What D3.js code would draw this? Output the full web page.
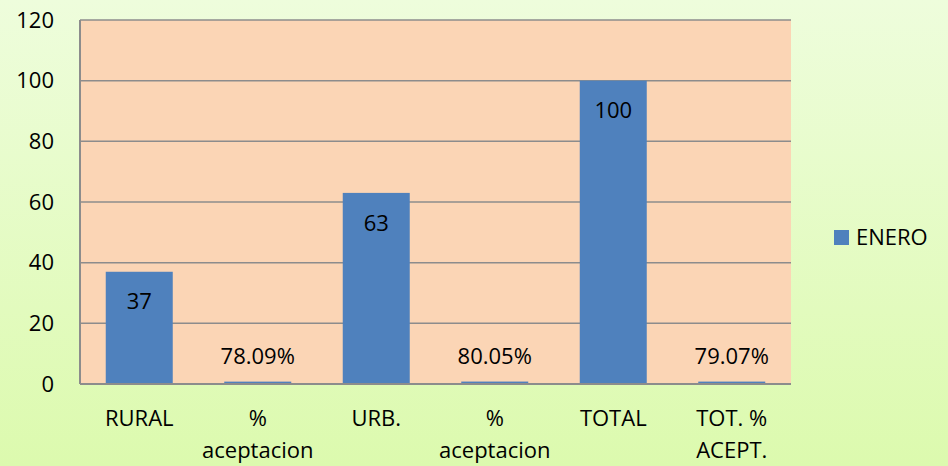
<!DOCTYPE html>
<html>
<head>
<meta charset="utf-8">
<script src="https://cdn.jsdelivr.net/npm/d3@7"></script>
<style>
  body { margin: 0; }
  svg { display: block; font-family: "Open Sans", Lato, sans-serif; }
</style>
</head>
<body>
<svg id="chart" width="948" height="466"></svg>
<script>
// data
const categories = ["RURAL", "% aceptacion", "URB.", "% aceptacion ", "TOTAL", "TOT. % ACEPT."];
const categoryLines = [["RURAL"], ["%", "aceptacion"], ["URB."], ["%", "aceptacion"], ["TOTAL"], ["TOT. %", "ACEPT."]];
const eneroValues = [37, 0.7809, 63, 0.8005, 100, 0.7907];
const valueLabels = ["37", "78.09%", "63", "80.05%", "100", "79.07%"];
const yTicks = [0, 20, 40, 60, 80, 100, 120];
const seriesName = "ENERO";

const svg = d3.select("#chart");
const W = 948, H = 466;
const margin = {top: 20, right: 157, bottom: 82, left: 80};
const width = W - margin.left - margin.right;
const height = H - margin.top - margin.bottom;
const fs = 22;

// background gradient
const defs = svg.append("defs");
const grad = defs.append("linearGradient").attr("id", "bg").attr("x1", 0).attr("y1", 0).attr("x2", 0).attr("y2", 1);
grad.append("stop").attr("offset", "0%").attr("stop-color", "#eefddc");
grad.append("stop").attr("offset", "100%").attr("stop-color", "#dcfaae");
svg.append("rect").attr("width", W).attr("height", H).attr("fill", "url(#bg)");

const x = d3.scaleBand().domain(categories).range([0, width]);
const y = d3.scaleLinear().domain([0, 120]).range([height, 0]);
const barW = 67;

const g = svg.append("g").attr("transform", `translate(${margin.left},${margin.top})`);

g.append("rect").attr("width", width).attr("height", height).attr("fill", "#fbd5b5");

// gridlines
g.selectAll(".grid").data(yTicks).join("line")
  .attr("x1", 0).attr("x2", width)
  .attr("y1", d => y(d)).attr("y2", d => y(d))
  .attr("stroke", "#8c8c8c").attr("stroke-width", 1.5);

// bars
g.selectAll(".bar").data(eneroValues).join("rect")
  .attr("x", (d, i) => x(categories[i]) + x.bandwidth() / 2 - barW / 2)
  .attr("y", d => y(d))
  .attr("width", barW)
  .attr("height", d => height - y(d))
  .attr("fill", "#4f81bd");

// plot frame (left + bottom axis lines)
g.append("line").attr("x1", 0).attr("x2", 0).attr("y1", 0).attr("y2", height)
  .attr("stroke", "#8c8c8c").attr("stroke-width", 2);
g.append("line").attr("x1", 0).attr("x2", width).attr("y1", height).attr("y2", height)
  .attr("stroke", "#8c8c8c").attr("stroke-width", 2);

// value labels
g.selectAll(".vlabel").data(eneroValues).join("text")
  .attr("x", (d, i) => x(categories[i]) + x.bandwidth() / 2)
  .attr("y", d => (height - y(d) > 40 ? y(d) + 30 : y(d) - 25))
  .attr("dy", "0.35em")
  .attr("text-anchor", "middle")
  .attr("font-size", fs)
  .attr("fill", "#000")
  .text((d, i) => valueLabels[i]);

// y axis labels
g.selectAll(".ytick").data(yTicks).join("text")
  .attr("x", -26).attr("y", d => y(d)).attr("dy", "0.35em")
  .attr("text-anchor", "end").attr("font-size", fs).attr("fill", "#000")
  .text(d => d);

// x axis labels
const xl = g.selectAll(".xlabel").data(categoryLines).join("text")
  .attr("text-anchor", "middle").attr("font-size", fs).attr("fill", "#000")
  .attr("transform", (d, i) => `translate(${x(categories[i]) + x.bandwidth() / 2},${height + 34})`);
xl.selectAll("tspan").data(d => d).join("tspan")
  .attr("x", 0).attr("y", (d, j) => j * 32).attr("dy", "0.35em")
  .text(d => d);

// legend
const leg = svg.append("g").attr("transform", "translate(834,230)");
leg.append("rect").attr("width", 15).attr("height", 15).attr("fill", "#4f81bd");
leg.append("text").attr("x", 22).attr("y", 7.5).attr("dy", "0.35em")
  .attr("font-size", fs).attr("fill", "#000").text(seriesName);
</script>
</body>
</html>
